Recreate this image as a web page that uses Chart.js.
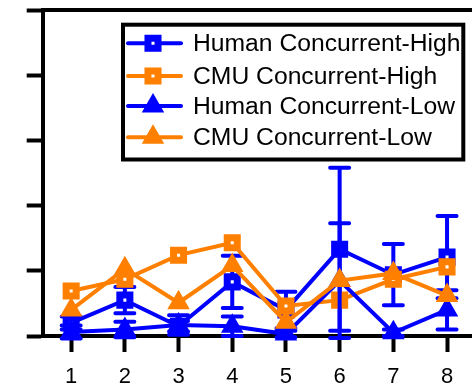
<!DOCTYPE html>
<html><head><meta charset="utf-8">
<script src="https://cdn.jsdelivr.net/npm/chart.js@4.4.1/dist/chart.umd.min.js"></script>
<style>html,body{margin:0;padding:0;overflow:hidden;background:#fff}#wrap{width:480px;height:388px}</style>
</head><body><div id="wrap"><canvas id="c" width="480" height="388"></canvas></div>
<script>
const categories = [1, 2, 3, 4, 5, 6, 7, 8];
const seriesLabels = ['Human Concurrent-High', 'CMU Concurrent-High', 'Human Concurrent-Low', 'CMU Concurrent-Low'];
const humanHigh    = [0.20, 0.55, 0.15, 0.83, 0.40, 1.33, 0.94, 1.21];
const humanHighErr = [0.10, 0.20, 0.08, 0.40, 0.28, 1.25, 0.47, 0.63];
const cmuHigh      = [0.69, 0.87, 1.24, 1.43, 0.46, 0.55, 0.87, 1.06];
const humanLow     = [0.06, 0.10, 0.17, 0.15, 0.03, 0.85, 0.05, 0.40];
const humanLowErr  = [0.10, 0.12, 0.15, 0.15, 0.05, 0.88, 0.05, 0.30];
const cmuLow       = [0.40, 1.03, 0.51, 1.08, 0.21, 0.85, 0.96, 0.62];
const yTicks = [0, 1, 2, 3, 4, 5];

const BLUE = '#0000ff', ORANGE = '#ff8000';
const FONT = '"Liberation Sans", Arial, Helvetica, sans-serif';

function pts(vals) { return categories.map((c, i) => ({x: c, y: vals[i]})); }

function sq(color, label, vals, order, errs) {
  return {label, data: pts(vals), errors: errs, order, borderColor: color, backgroundColor: '#fff',
    borderWidth: 4, pointStyle: 'rect', pointRadius: 7.1, pointBorderWidth: 7,
    pointBackgroundColor: '#fff', pointBorderColor: color, clip: false, tension: 0};
}
function tri(color, label, vals, order, errs) {
  return {label, data: pts(vals), errors: errs, order, borderColor: color, backgroundColor: color,
    borderWidth: 4, pointStyle: 'triangle', pointRadius: 10, pointBorderWidth: 3,
    pointBackgroundColor: color, pointBorderColor: color, clip: false, tension: 0};
}

const errorBars = {
  id: 'errorBars',
  beforeDatasetDraw(chart, args) {
    const ds = chart.data.datasets[args.index];
    if (!ds.errors) return;
    const xs = chart.scales.x, ys = chart.scales.y, ctx = chart.ctx;
    ctx.save();
    ctx.strokeStyle = ds.borderColor; ctx.lineWidth = 4; ctx.lineCap = 'round';
    ds.data.forEach((p, i) => {
      const e = ds.errors[i];
      const px = xs.getPixelForValue(p.x);
      const t = ys.getPixelForValue(p.y + e), b = ys.getPixelForValue(p.y - e);
      ctx.beginPath();
      ctx.moveTo(px, t); ctx.lineTo(px, b);
      ctx.moveTo(px - 9.5, t); ctx.lineTo(px + 9.5, t);
      ctx.moveTo(px - 9.5, b); ctx.lineTo(px + 9.5, b);
      ctx.stroke();
    });
    ctx.restore();
  }
};

const frameAndLegend = {
  id: 'frameAndLegend',
  afterDraw(chart) {
    const ctx = chart.ctx, a = chart.chartArea;
    ctx.save();
    ctx.strokeStyle = '#000'; ctx.lineWidth = 4;
    ctx.beginPath();
    ctx.moveTo(a.left, a.top); ctx.lineTo(a.right, a.top); ctx.lineTo(a.right, a.bottom);
    ctx.stroke();
    ctx.fillStyle = '#fff';
    ctx.fillRect(123, 24.7, 340.3, 134.8);
    ctx.lineWidth = 4; ctx.strokeStyle = '#000';
    ctx.strokeRect(123, 24.7, 340.3, 134.8);
    const rows = [43.3, 76, 106, 137.3];
    chart.data.datasets.forEach((ds, i) => {
      const y = rows[i];
      ctx.strokeStyle = ds.borderColor; ctx.lineWidth = 4; ctx.lineCap = 'round';
      ctx.beginPath(); ctx.moveTo(128, y); ctx.lineTo(181, y); ctx.stroke();
      ctx.fillStyle = ds.pointBackgroundColor; ctx.strokeStyle = ds.pointBorderColor;
      ctx.lineWidth = ds.pointBorderWidth; ctx.lineCap = 'butt';
      Chart.helpers.drawPoint(ctx, {pointStyle: ds.pointStyle, radius: ds.pointRadius,
        borderWidth: ds.pointBorderWidth, rotation: 0}, 153, y);
      ctx.fillStyle = '#000';
      ctx.font = '24.7px ' + FONT;
      ctx.textBaseline = 'middle'; ctx.textAlign = 'left';
      ctx.fillText(ds.label, 193, y + 1);
    });
    ctx.restore();
  }
};

new Chart(document.getElementById('c'), {
  type: 'line',
  data: {
    datasets: [
      sq(BLUE, seriesLabels[0], humanHigh, 4, humanHighErr),
      sq(ORANGE, seriesLabels[1], cmuHigh, 3, null),
      tri(BLUE, seriesLabels[2], humanLow, 2, humanLowErr),
      tri(ORANGE, seriesLabels[3], cmuLow, 1, null)
    ]
  },
  options: {
    responsive: false, animation: false, devicePixelRatio: 1,
    layout: {autoPadding: false, padding: {top: 10, right: 4.5, left: 0, bottom: 0}},
    plugins: {legend: {display: false}, tooltip: {enabled: false}},
    scales: {
      x: {
        type: 'linear', min: 0.47, max: 8.53,
        afterBuildTicks: s => { s.ticks = categories.map(v => ({value: v})); },
        afterFit: s => { s.height = 52; s.paddingLeft = 0; s.paddingRight = 0; },
        ticks: {color: '#000', font: {size: 22, family: FONT}, padding: 12, maxRotation: 0},
        grid: {drawOnChartArea: false, drawTicks: true, tickLength: 16, tickWidth: 4, tickColor: '#000'},
        border: {display: true, width: 4, color: '#000'}
      },
      y: {
        min: 0, max: 5,
        afterBuildTicks: s => { s.ticks = yTicks.map(v => ({value: v})); },
        afterFit: s => { s.width = 42.7; s.paddingTop = 0; s.paddingBottom = 0; },
        ticks: {display: false},
        grid: {drawOnChartArea: false, drawTicks: true, tickLength: 16, tickWidth: 4, tickColor: '#000'},
        border: {display: true, width: 4, color: '#000'}
      }
    }
  },
  plugins: [errorBars, frameAndLegend]
});
</script>
</body></html>
